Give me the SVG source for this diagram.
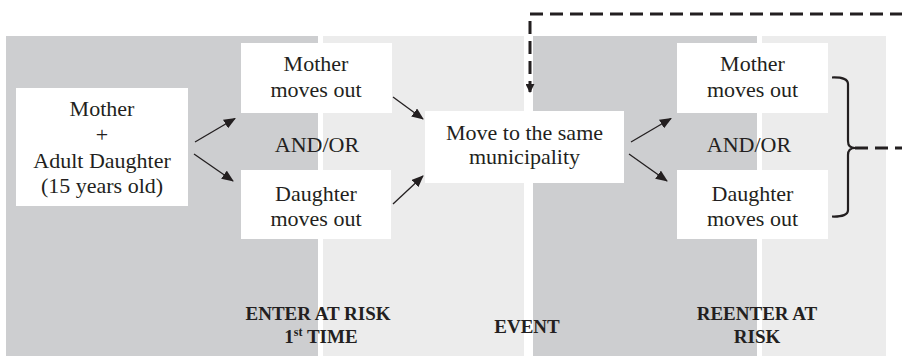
<svg xmlns="http://www.w3.org/2000/svg" width="902" height="357" viewBox="0 0 902 357">
<defs>
<style>
.dark{fill:#cdced0}
.light{fill:#ececec}
.box{fill:#ffffff}
.t{font-family:"Liberation Serif","Times New Roman",serif;font-size:22px;fill:#231f20;text-anchor:middle}
.lb{font-family:"Liberation Serif","Times New Roman",serif;font-size:19px;font-weight:bold;fill:#231f20;text-anchor:middle}
.arr{stroke:#231f20;stroke-width:1.3;fill:none;marker-end:url(#ah)}
.dash{stroke:#231f20;stroke-width:3;fill:none;stroke-dasharray:13 7}
.br{stroke:#231f20;stroke-width:2.2;fill:none}
</style>
<marker id="ah" viewBox="0 0 12 10" refX="11" refY="5" markerWidth="12" markerHeight="10" markerUnits="userSpaceOnUse" orient="auto">
<path d="M0,0 L12,5 L0,10 Z" fill="#231f20"/>
</marker>
<marker id="ahd" viewBox="0 0 10 10" refX="9" refY="5" markerWidth="9" markerHeight="9" markerUnits="userSpaceOnUse" orient="auto">
<path d="M0,0 L10,5 L0,10 Z" fill="#231f20"/>
</marker>
</defs>
<rect width="902" height="357" fill="#ffffff"/>
<g id="panels">
<rect class="dark" x="6" y="36" width="312" height="320"/>
<rect class="light" x="323" y="36" width="201" height="320"/>
<rect class="dark" x="533" y="36" width="224" height="320"/>
<rect class="light" x="762" y="36" width="124" height="320"/>
</g>
<g id="labels">
<text class="lb" x="318" y="320">ENTER AT RISK</text>
<text class="lb" x="321" y="343">1<tspan font-size="12" dy="-7">st</tspan><tspan dy="7"> TIME</tspan></text>
<text class="lb" x="527" y="333">EVENT</text>
<text class="lb" x="757" y="320">REENTER AT</text>
<text class="lb" x="757" y="343">RISK</text>
<text class="t" x="317" y="152">AND/OR</text>
<text class="t" x="749" y="152">AND/OR</text>
</g>
<g id="n-start">
<rect class="box" x="16" y="88" width="172" height="118"/>
<text class="t" x="102" y="116">Mother</text>
<text class="t" x="102" y="141.5">+</text>
<text class="t" x="102" y="167.5">Adult Daughter</text>
<text class="t" x="102" y="192.5">(15 years old)</text>
</g>
<g id="n-mother1">
<rect class="box" x="241" y="43" width="151" height="70"/>
<text class="t" x="316" y="71">Mother</text>
<text class="t" x="316" y="96.5">moves out</text>
</g>
<g id="n-daughter1">
<rect class="box" x="241" y="170" width="150" height="69"/>
<text class="t" x="316" y="200.5">Daughter</text>
<text class="t" x="316" y="226">moves out</text>
</g>
<g id="n-event">
<rect class="box" x="425" y="111" width="199" height="72"/>
<text class="t" x="524.5" y="140">Move to the same</text>
<text class="t" x="524.5" y="164">municipality</text>
</g>
<g id="n-mother2">
<rect class="box" x="677" y="43" width="151" height="70"/>
<text class="t" x="752.5" y="71">Mother</text>
<text class="t" x="752.5" y="96.5">moves out</text>
</g>
<g id="n-daughter2">
<rect class="box" x="677" y="170" width="151" height="69"/>
<text class="t" x="752.5" y="200.5">Daughter</text>
<text class="t" x="752.5" y="226">moves out</text>
</g>
<g id="connectors">
<line class="arr" x1="195" y1="142" x2="235" y2="118.5"/>
<line class="arr" x1="194" y1="154" x2="233" y2="181"/>
<line class="arr" x1="393" y1="97" x2="423" y2="119"/>
<line class="arr" x1="393" y1="204" x2="423" y2="176"/>
<line class="arr" x1="631" y1="142" x2="671" y2="118.5"/>
<line class="arr" x1="629" y1="154" x2="667" y2="181"/>
<path class="br" d="M832,77.5 Q848,77 848,84 V141 Q848,148 855,148 Q848,148 848,155 V210 Q848,217 832,216.5"/>
<path class="dash" d="M855,148 H912 V14 H530 V92" marker-end="url(#ahd)"/>
</g>
</svg>
